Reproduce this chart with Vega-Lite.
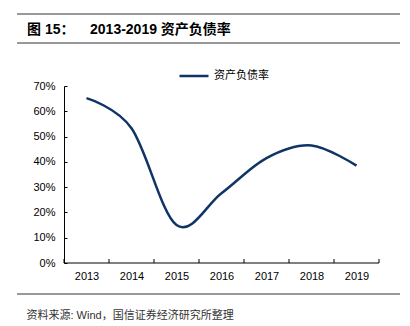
{
  "$schema": "https://vega.github.io/schema/vega-lite/v6.json",
  "autosize": "none",
  "width": 315,
  "height": 177,
  "padding": {"left": 64, "top": 86, "right": 31, "bottom": 63},
  "background": "white",
  "config": {
    "font": "Liberation Sans, Noto Sans CJK SC",
    "view": {"stroke": null}
  },
  "title": {
    "text": "图 15：\u00a0\u00a0\u00a0 2013-2019 资产负债率",
    "anchor": "start",
    "frame": "group",
    "dx": -37,
    "offset": -34,
    "baseline": "alphabetic",
    "fontSize": 14,
    "fontWeight": "bold",
    "color": "#000000",
    "font": "Liberation Sans, Noto Sans CJK SC"
  },
  "datasets": {
    "main": [
      {"year": 2013, "series": "资产负债率", "rate": 0.652},
      {"year": 2014, "series": "资产负债率", "rate": 0.533},
      {"year": 2015, "series": "资产负债率", "rate": 0.150},
      {"year": 2016, "series": "资产负债率", "rate": 0.276},
      {"year": 2017, "series": "资产负债率", "rate": 0.415},
      {"year": 2018, "series": "资产负债率", "rate": 0.465},
      {"year": 2019, "series": "资产负债率", "rate": 0.385}
    ]
  },
  "layer": [
    {
      "data": {"name": "main"},
      "mark": {"type": "line", "interpolate": "cardinal", "strokeWidth": 2.5},
      "encoding": {
        "x": {
          "field": "year",
          "type": "quantitative",
          "scale": {"domain": [2012.5, 2019.5], "nice": false, "zero": false},
          "axis": {
            "values": [2013, 2014, 2015, 2016, 2017, 2018, 2019],
            "format": "d",
            "ticks": false,
            "domain": false,
            "grid": false,
            "labelFontSize": 11,
            "labelColor": "#000000",
            "labelPadding": 7,
            "labelFlush": false,
            "title": "资料来源: Wind，国信证券经济研究所整理",
            "titleAnchor": "start",
            "titleX": -38,
            "titleY": 46,
            "titleFontSize": 11,
            "titleFontWeight": "normal",
            "titleColor": "#333333"
          }
        },
        "y": {
          "field": "rate",
          "type": "quantitative",
          "scale": {"domain": [0, 0.7], "nice": false},
          "axis": {
            "values": [0, 0.1, 0.2, 0.3, 0.4, 0.5, 0.6, 0.7],
            "format": ".0%",
            "grid": false,
            "domainColor": "#000000",
            "tickColor": "#000000",
            "tickSize": -3,
            "labelPadding": 12,
            "labelFontSize": 11,
            "labelColor": "#000000",
            "title": null
          }
        },
        "color": {
          "field": "series",
          "type": "nominal",
          "scale": {"range": ["#0f3466"]},
          "legend": {
            "title": null,
            "orient": "none",
            "legendX": 114,
            "legendY": -26,
            "symbolType": "stroke",
            "symbolSize": 841,
            "symbolStrokeWidth": 2.5,
            "labelFontSize": 11,
            "labelColor": "#000000",
            "labelFont": "Noto Sans CJK SC"
          }
        }
      }
    },
    {
      "data": {"values": [{"t": 2012.5}, {"t": 2013.5}, {"t": 2014.5}, {"t": 2015.5}, {"t": 2016.5}, {"t": 2017.5}, {"t": 2018.5}, {"t": 2019.5}]},
      "mark": {"type": "rule", "color": "#000000", "strokeWidth": 1},
      "encoding": {
        "x": {"field": "t", "type": "quantitative"},
        "y": {"value": 173},
        "y2": {"value": 177}
      }
    },
    {
      "data": {"values": [{"t": 2012.5}]},
      "mark": {"type": "rule", "color": "#000000", "strokeWidth": 1},
      "encoding": {
        "x": {"value": 0},
        "x2": {"value": 315},
        "y": {"value": 177}
      }
    },
    {
      "data": {"values": [{"p": "top"}]},
      "mark": {"type": "rule", "color": "#333333", "strokeWidth": 1, "clip": false},
      "encoding": {"x": {"value": -47}, "x2": {"value": 336}, "y": {"value": -72}}
    },
    {
      "data": {"values": [{"p": "mid"}]},
      "mark": {"type": "rule", "color": "#333333", "strokeWidth": 1, "clip": false},
      "encoding": {"x": {"value": -47}, "x2": {"value": 336}, "y": {"value": -43}}
    },
    {
      "data": {"values": [{"p": "bottom"}]},
      "mark": {"type": "rule", "color": "#333333", "strokeWidth": 1, "clip": false},
      "encoding": {"x": {"value": -47}, "x2": {"value": 336}, "y": {"value": 208}}
    }
  ]
}
